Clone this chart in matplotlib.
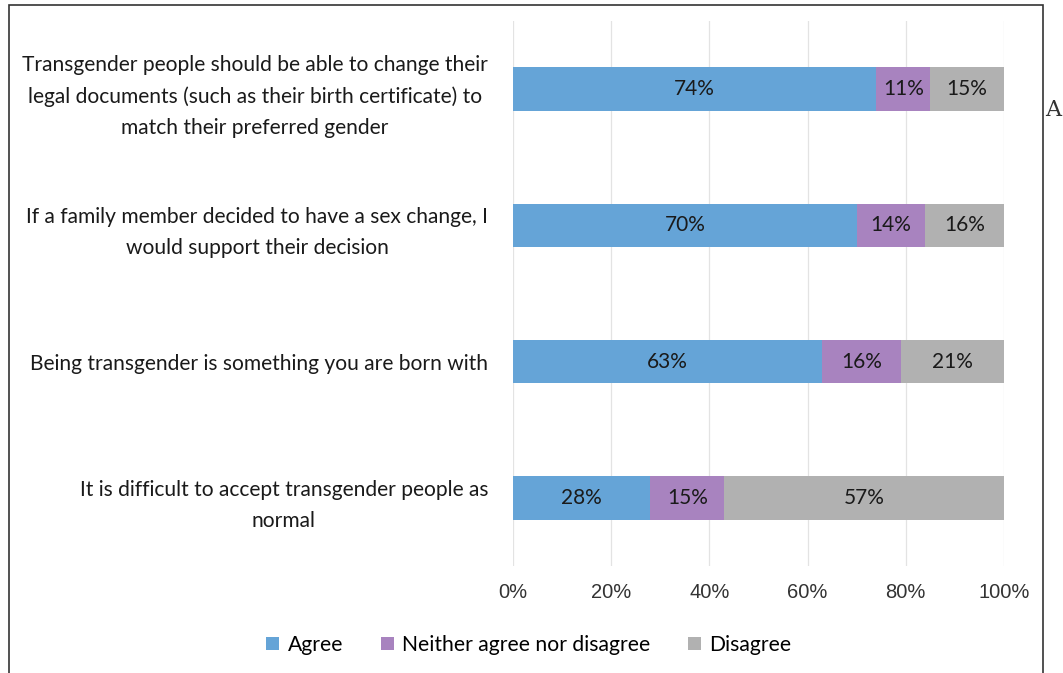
import numpy as np
import matplotlib.pyplot as plt
from matplotlib.patches import Rectangle

# Survey statements (top to bottom) and shares in percent
statements = [
    "Transgender people should be able to change their\nlegal documents (such as their birth certificate) to\nmatch their preferred gender",
    "If a family member decided to have a sex change, I\nwould support their decision",
    "Being transgender is something you are born with",
    "It is difficult to accept transgender people as\nnormal",
]
agree = [74, 70, 63, 28]
neither = [11, 14, 16, 15]
disagree = [15, 16, 21, 57]
series_names = ["Agree", "Neither agree nor disagree", "Disagree"]
colors = ["#65a4d7", "#a883bf", "#b1b1b1"]
tick_labels = ["0%", "20%", "40%", "60%", "80%", "100%"]

W, H = 1063, 673
fig = plt.figure(figsize=(W / 100, H / 100), dpi=100)
ax = fig.add_axes([513 / W, 1 - 566 / H, (1004 - 513) / W, (566 - 21) / H])

label_font = "Lato"
y = np.arange(len(statements))
left = np.zeros(len(statements))
for vals, name, c in zip([agree, neither, disagree], series_names, colors):
    vals = np.array(vals)
    bars = ax.barh(y, vals, left=left, height=0.32, color=c, label=name, zorder=2)
    for b, v in zip(bars, vals):
        ax.text(b.get_x() + b.get_width() / 2, b.get_y() + b.get_height() / 2,
                f"{v}%", ha="center", va="center", fontsize=15,
                family=label_font, color="#1a1a1a", zorder=3)
    left += vals

ax.set_xlim(0, 100)
ax.set_ylim(len(statements) - 0.5, -0.5)
ax.set_xticks(np.arange(0, 101, 20))
ax.set_xticklabels(tick_labels, family="Liberation Sans", fontsize=14.5, color="#333333")
ax.set_yticks(y)
ax.set_yticklabels(statements, family=label_font, fontsize=15.1, color="#1a1a1a",
                   ha="right", multialignment="center", linespacing=1.68)
ax.tick_params(axis="both", length=0)
ax.tick_params(axis="x", pad=12)
ax.tick_params(axis="y", pad=18)
ax.grid(axis="x", color="#e3e3e3", linewidth=0.9, zorder=0)
for s in ax.spines.values():
    s.set_visible(False)

ax.legend(loc="center", bbox_to_anchor=(529 / W, 1 - 645 / H), bbox_transform=fig.transFigure,
          ncol=3, frameon=False, prop={"family": label_font, "size": 15.2},
          handlelength=0.6, handleheight=0.6, handletextpad=0.4, columnspacing=1.8)

# outer frame and stray letter at the right edge
fig.patches.append(Rectangle((9 / W, -0.05), (1043 - 9) / W, 1.05 - 5 / H,
                             transform=fig.transFigure, fill=False,
                             edgecolor="#333333", linewidth=1.2))
fig.text(1045 / W, 1 - 110 / H, "A", family="DejaVu Serif", fontsize=16,
         va="center", ha="left", color="#333333")

fig.savefig("out.png", dpi=100)
